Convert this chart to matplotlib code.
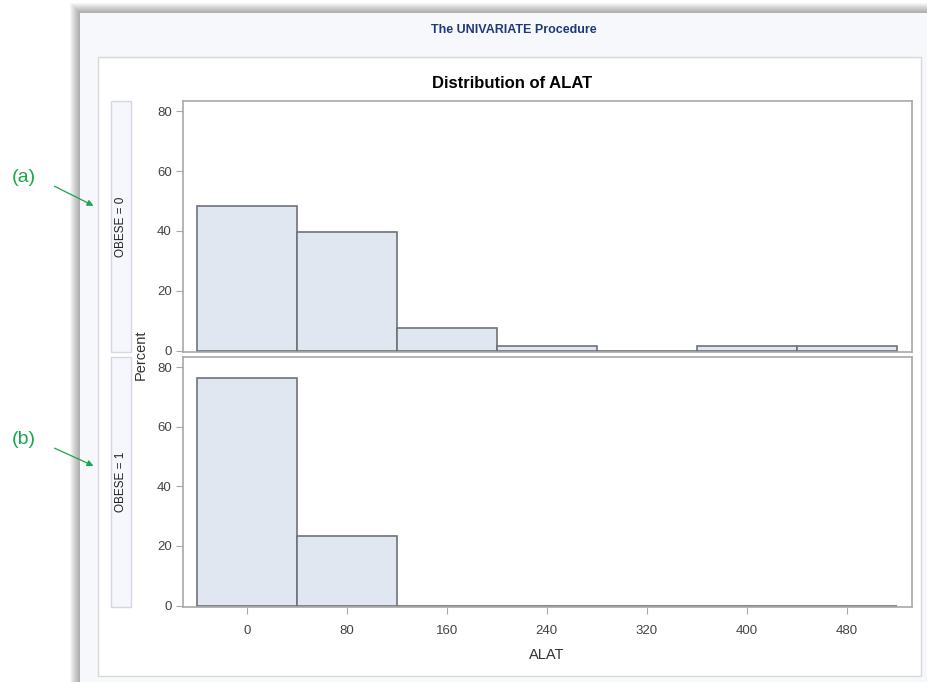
import matplotlib.pyplot as plt
from matplotlib.patches import Rectangle, FancyArrowPatch

# ALAT histogram, percent per bin (bin width 80)
bin_mids = [0, 80, 160, 240, 320, 400, 480]
pct_obese0 = [48.5, 39.7, 7.4, 1.5, 0.0, 1.5, 1.5]
pct_obese1 = [76.5, 23.5, 0.0, 0.0, 0.0, 0.0, 0.0]
panel_labels = ["OBESE = 0", "OBESE = 1"]
x_ticks = [0, 80, 160, 240, 320, 400, 480]
y_ticks = [0, 20, 40, 60, 80]

plt.rcParams["font.family"] = ["Liberation Sans Narrow", "Liberation Sans", "DejaVu Sans"]

W, H = 927, 682
fig = plt.figure(figsize=(W / 100, H / 100), dpi=100)
fig.patch.set_facecolor("white")


def px(x0, y0, x1, y1):
    # pixel box -> figure fraction (left, bottom, width, height)
    return (x0 / W, 1 - y1 / H, (x1 - x0) / W, (y1 - y0) / H)


def box(x0, y0, x1, y1, z=-10, **kw):
    l, b, w, h = px(x0, y0, x1, y1)
    fig.add_artist(Rectangle((l, b), w, h, transform=fig.transFigure, zorder=z, **kw))


# screenshot shadow + panel
for i in range(10):
    d = 10 - i
    box(80 - d, 13 - d, W + 10, H + 10, facecolor="black", edgecolor="none", alpha=0.035)
box(80, 13, W + 10, H + 10, facecolor="#f7f8fc", edgecolor="none")
box(98, 57, 921, 676, facecolor="white", edgecolor="#d8d8d8", linewidth=1)

fig.text(514 / W, 1 - 30 / H, "The UNIVARIATE Procedure", ha="center", va="center",
         fontsize=9, color="#1f3a78", fontweight="bold")
fig.text(512 / W, 1 - 83 / H, "Distribution of ALAT", ha="center", va="center",
         fontsize=12, fontweight="bold", color="black")

axes_px = [(183, 101, 912, 352), (183, 357, 912, 607)]
data = [pct_obese0, pct_obese1]

for k, (rect, vals) in enumerate(zip(axes_px, data)):
    ax = fig.add_axes(px(*rect))
    ax.set_zorder(5)
    ax.bar(bin_mids, vals, width=80, color="#e1e7f0", edgecolor="#6e727a", linewidth=1.2)
    ax.set_xlim(-51, 532)
    ax.set_ylim(-0.5, 83.5)
    ax.set_yticks(y_ticks)
    for s in ax.spines.values():
        s.set_color("#a8a8a8")
        s.set_linewidth(1.2)
    ax.tick_params(axis="y", direction="out", length=5, color="#a8a8a8",
                   labelsize=9.5, labelcolor="#444444", pad=3)
    if k == 1:
        ax.set_xticks(x_ticks)
        ax.tick_params(axis="x", direction="out", length=5, color="#a8a8a8",
                       labelsize=9.5, labelcolor="#444444", pad=8)
    else:
        ax.set_xticks([])
    # strip label on the left
    x0, y0, x1, y1 = rect
    box(111, y0, 131, y1, z=2, facecolor="#f6f7fc", edgecolor="#d5d7de", linewidth=1)
    fig.text(121 / W, 1 - (y0 + y1) / 2 / H, panel_labels[k], rotation=90,
             ha="center", va="center", fontsize=8.5, color="#222222", zorder=3)

fig.text(141 / W, 1 - 355 / H, "Percent", rotation=90, ha="center", va="center",
         fontsize=10.5, color="#333333", zorder=6)
fig.text(547 / W, 1 - 655 / H, "ALAT", ha="center", va="center",
         fontsize=10.5, color="#333333")

# green callouts
green = "#19a64c"
for lbl, ty, ay in [("(a)", 178, 207), ("(b)", 440, 467)]:
    fig.text(24 / W, 1 - ty / H, lbl, ha="center", va="center", fontsize=14,
             color=green, family=["Liberation Sans", "DejaVu Sans"])
    arr = FancyArrowPatch((52 / W, 1 - (ty + 7) / H), (96 / W, 1 - ay / H),
                          transform=fig.transFigure, arrowstyle="-|>",
                          mutation_scale=9, color=green, linewidth=0.9)
    fig.add_artist(arr)

fig.savefig("out.png", dpi=100)
